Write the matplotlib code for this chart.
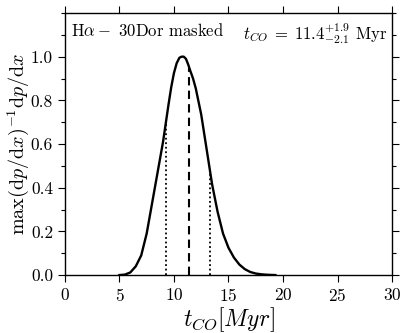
import matplotlib
matplotlib.use("Agg")
import matplotlib.pyplot as plt
import numpy as np
from matplotlib.ticker import MultipleLocator

plt.rcParams['font.family'] = 'serif'
plt.rcParams['font.serif'] = ['cmr10', 'DejaVu Serif']
plt.rcParams['mathtext.fontset'] = 'cm'
plt.rcParams['axes.formatter.use_mathtext'] = True

t_co = [5.0, 5.5, 6.0, 6.5, 7.0, 7.5, 8.0, 8.5, 9.0, 9.5, 9.75, 10.0, 10.25, 10.5, 10.7,
        10.9, 11.1, 11.3, 11.5, 11.75, 12.0, 12.5, 13.0, 13.5, 14.0, 14.5, 15.0, 15.5,
        16.0, 16.5, 17.0, 17.5, 18.0, 18.5, 19.0, 19.3]
pdf = [0.0, 0.002, 0.012, 0.04, 0.09, 0.19, 0.33, 0.47, 0.61, 0.78, 0.86, 0.925, 0.97,
       0.995, 1.0, 1.0, 0.99, 0.965, 0.935, 0.90, 0.855, 0.735, 0.575, 0.415, 0.29,
       0.19, 0.125, 0.08, 0.048, 0.027, 0.014, 0.007, 0.0035, 0.0015, 0.0005, 0.0]
best = 11.4
lower = 9.3
upper = 13.3

fig = plt.figure(figsize=(4.08, 3.33), dpi=100)
ax = fig.add_axes([0.159, 0.174, 0.802, 0.787])
ax.plot(t_co, pdf, color='black', lw=1.7)
ax.vlines(best, 0, np.interp(best, t_co, pdf), colors='black', linestyles=(0, (4, 2.5)), lw=1.5)
for v in (lower, upper):
    ax.vlines(v, 0, np.interp(v, t_co, pdf), colors='black', linestyles=(0, (1, 1.5)), lw=1.3)

ax.set_xlim(0, 30)
ax.set_ylim(0, 1.2)
ax.xaxis.set_major_locator(MultipleLocator(5))
ax.yaxis.set_minor_locator(MultipleLocator(0.1))
ax.set_yticks([0.0, 0.2, 0.4, 0.6, 0.8, 1.0])
ax.set_yticklabels(['0.0', '0.2', '0.4', '0.6', '0.8', '1.0'])
ax.tick_params(which='both', direction='out', top=True, right=True, labelsize=12.5)
ax.tick_params(which='major', length=5, width=0.8)
ax.tick_params(which='minor', length=3, width=0.8)
for s in ax.spines.values():
    s.set_linewidth(1.0)

ax.set_xlabel(r'$t_{CO}[Myr]$', fontsize=17, labelpad=1)
ax.set_ylabel(r'$\max(\mathrm{d}p/\mathrm{d}x)^{-1}\mathrm{d}p/\mathrm{d}x$', fontsize=14.5, labelpad=0)

ax.text(0.02, 0.965, r'H$\alpha-$ 30Dor masked', transform=ax.transAxes,
        ha='left', va='top', fontsize=12)
ax.text(0.985, 0.965, r'$t_{CO}\;=\;11.4^{+1.9}_{-2.1}$ Myr', transform=ax.transAxes,
        ha='right', va='top', fontsize=12)

fig.savefig('out.png', dpi=100)
